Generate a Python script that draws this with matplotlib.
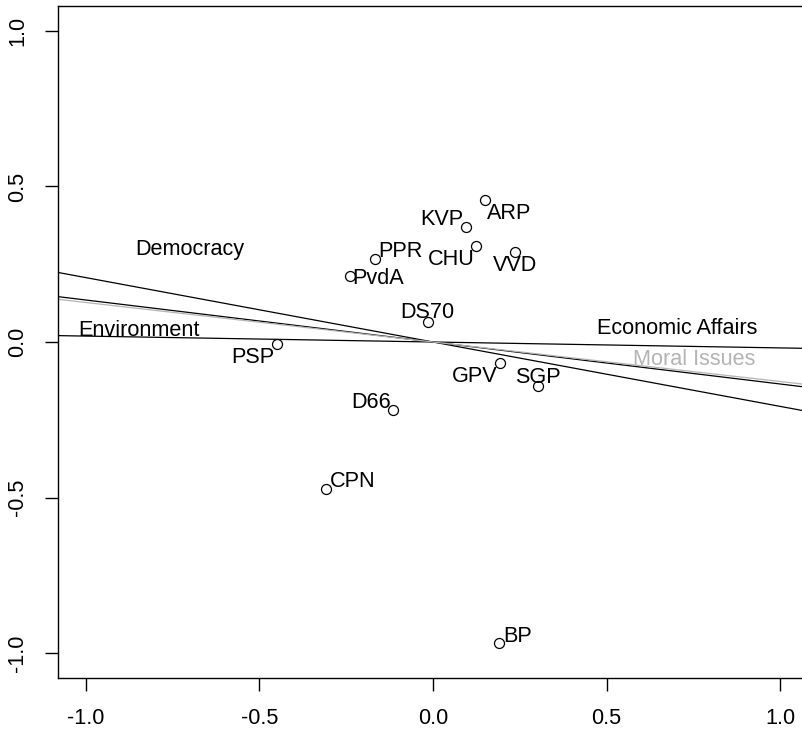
import matplotlib
matplotlib.use('Agg')
import matplotlib.pyplot as plt

plt.rcParams['font.family'] = ['Liberation Sans', 'DejaVu Sans']

# party positions
parties = ['ARP', 'KVP', 'CHU', 'VVD', 'PPR', 'PvdA', 'DS70',
           'PSP', 'GPV', 'SGP', 'D66', 'CPN', 'BP']
dim1 = [0.150, 0.094, 0.124, 0.236, -0.167, -0.239, -0.015,
        -0.449, 0.193, 0.301, -0.116, -0.308, 0.191]
dim2 = [0.456, 0.369, 0.308, 0.289, 0.268, 0.212, 0.065,
        -0.008, -0.067, -0.142, -0.219, -0.472, -0.968]

# label offsets (pixels)
label_dx = [24, -24, -25, 0, 25, 28, 0, -24, -25, 0, -22, 27, 18]
label_dy = [-13, 8, -13, -13, 7, -2, 9, -13, -14, 9, 8, 7, 7]

# issue directions (lines through the origin)
issues = ['Democracy', 'Environment', 'Economic Affairs', 'Moral Issues']
slopes = [-0.207, -0.019, -0.135, -0.127]
issue_lab_x = [-0.700, -0.848, 0.703, 0.752]
issue_lab_y = [0.297, 0.037, 0.044, -0.057]
issue_col = ['black', 'black', 'black', '#b4b4b4']

fig = plt.figure(figsize=(8.03, 7.34), dpi=100)
ax = fig.add_axes([58/803, 56/734, 750/803, 672/734])

for s, c in zip(slopes, issue_col):
    ax.axline((0, 0), slope=s, color=c, lw=0.9)

for name, x, y, c in zip(issues, issue_lab_x, issue_lab_y, issue_col):
    ax.text(x, y, name, color=c, fontsize=15.6, ha='center', va='center')

ax.plot(dim1, dim2, 'o', mfc='white', mec='black', ms=7.2, mew=0.9, zorder=3)

for name, x, y, dx, dy in zip(parties, dim1, dim2, label_dx, label_dy):
    ax.annotate(name, (x, y), xytext=(dx, dy), textcoords='offset pixels',
                fontsize=15.6, ha='center', va='center')

ax.set_xlim(-1.08, 1.08)
ax.set_ylim(-1.08, 1.08)
ax.set_xticks([-1.0, -0.5, 0.0, 0.5, 1.0])
ax.set_yticks([-1.0, -0.5, 0.0, 0.5, 1.0])
ax.set_xticklabels(['-1.0', '-0.5', '0.0', '0.5', '1.0'])
ax.set_yticklabels(['-1.0', '-0.5', '0.0', '0.5', '1.0'])
ax.tick_params(length=9.5, width=1.0, labelsize=15.6, pad=12)
for lab in ax.get_yticklabels():
    lab.set_rotation(90)
    lab.set_va('center')
for sp in ax.spines.values():
    sp.set_linewidth(1.0)

fig.savefig('out.png', dpi=100)
